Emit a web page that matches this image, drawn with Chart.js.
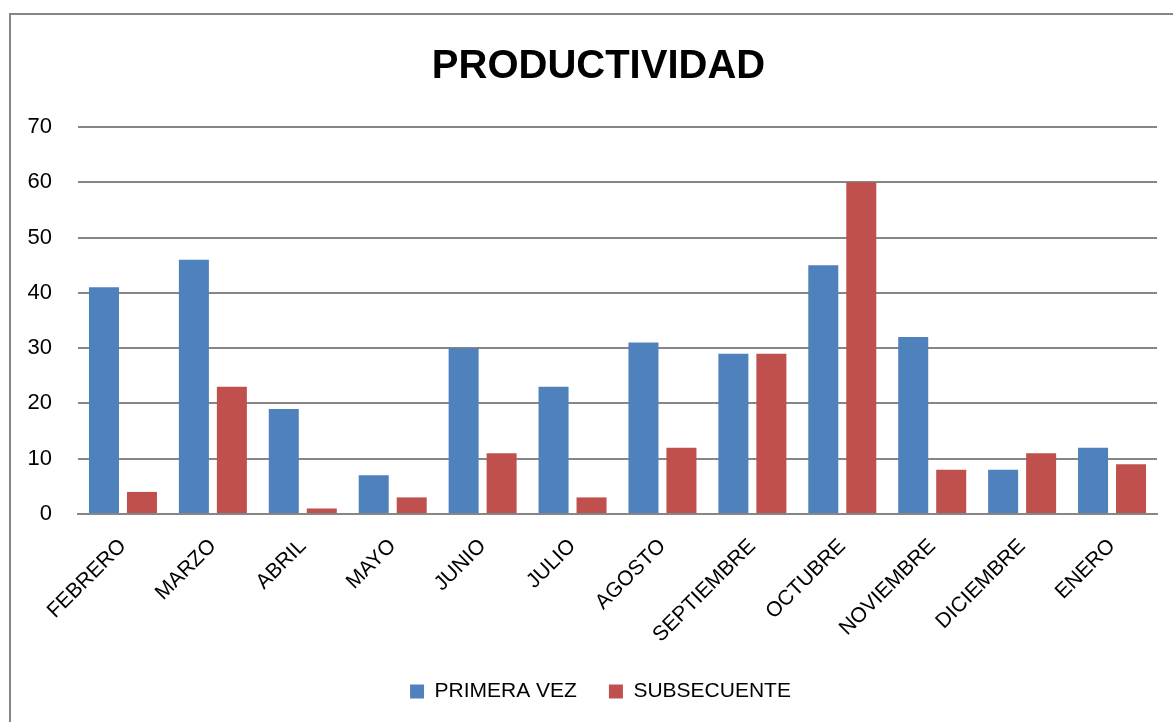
<!DOCTYPE html>
<html>
<head>
<meta charset="utf-8">
<script src="https://cdn.jsdelivr.net/npm/chart.js@4.4.1/dist/chart.umd.min.js"></script>
<style>
  html, body { margin: 0; padding: 0; background: #fff; }
  #wrap { position: relative; width: 1173px; height: 722px; overflow: hidden; }
  #frame { position: absolute; left: 9px; top: 13px; width: 1200px; height: 760px; border: 2px solid #868686; box-sizing: border-box; }
  #chart { position: absolute; left: 0; top: 0; }
</style>
</head>
<body>
<div id="wrap">
  <div id="frame"></div>
  <canvas id="chart" width="1173" height="722"></canvas>
</div>
<script>
const months = ['FEBRERO', 'MARZO', 'ABRIL', 'MAYO', 'JUNIO', 'JULIO', 'AGOSTO', 'SEPTIEMBRE', 'OCTUBRE', 'NOVIEMBRE', 'DICIEMBRE', 'ENERO'];
const primeraVez = [41, 46, 19, 7, 30, 23, 31, 29, 45, 32, 8, 12];
const subsecuente = [4, 23, 1, 3, 11, 3, 12, 29, 60, 8, 11, 9];
const yTicks = [0, 10, 20, 30, 40, 50, 60, 70];

const FONT = "'Liberation Sans', Arial, sans-serif";

// title and legend sit a bit right of the canvas centre in the original
const shiftBlocks = {
    id: 'shiftBlocks',
    afterLayout(chart) {
        chart.titleBlock.left = 40;
        chart.legend.left = 44;
        if (chart.legend.adjustHitBoxes) chart.legend.adjustHitBoxes();
    },
};

new Chart(document.getElementById('chart'), {
    type: 'bar',
    data: {
        labels: months,
        datasets: [
            { label: 'PRIMERA VEZ', data: primeraVez, backgroundColor: '#4F81BD', barPercentage: 0.79, categoryPercentage: 0.845 },
            { label: 'SUBSECUENTE', data: subsecuente, backgroundColor: '#C0504D', barPercentage: 0.79, categoryPercentage: 0.845 },
        ],
    },
    options: {
        responsive: false,
        animation: false,
        layout: { padding: { left: 0, right: 16, top: 0, bottom: 10 } },
        plugins: {
            title: {
                display: true,
                text: 'PRODUCTIVIDAD',
                color: '#000',
                font: { family: FONT, size: 40, weight: 'bold', lineHeight: 1.2 },
                padding: { top: 43, bottom: 36 },
            },
            legend: {
                position: 'bottom',
                labels: {
                    color: '#000',
                    font: { family: FONT, size: 21 },
                    boxWidth: 14,
                    boxHeight: 14,
                    padding: 32,
                },
            },
            tooltip: { enabled: false },
        },
        scales: {
            x: {
                grid: { display: false },
                border: { color: '#868686', width: 2 },
                ticks: {
                    color: '#000',
                    font: { family: FONT, size: 21 },
                    maxRotation: 45,
                    minRotation: 45,
                    padding: 12,
                },
                afterFit: scale => { scale.height = 135; },
            },
            y: {
                min: 0,
                max: 70,
                afterBuildTicks: scale => { scale.ticks = yTicks.map(v => ({ value: v })); },
                grid: { color: '#868686', lineWidth: 2, drawTicks: false },
                border: { display: false },
                ticks: {
                    color: '#000',
                    font: { family: FONT, size: 22 },
                    padding: 26,
                },
                afterFit: scale => { scale.width = 78; },
            },
        },
    },
    plugins: [shiftBlocks],
});
</script>
</body>
</html>
